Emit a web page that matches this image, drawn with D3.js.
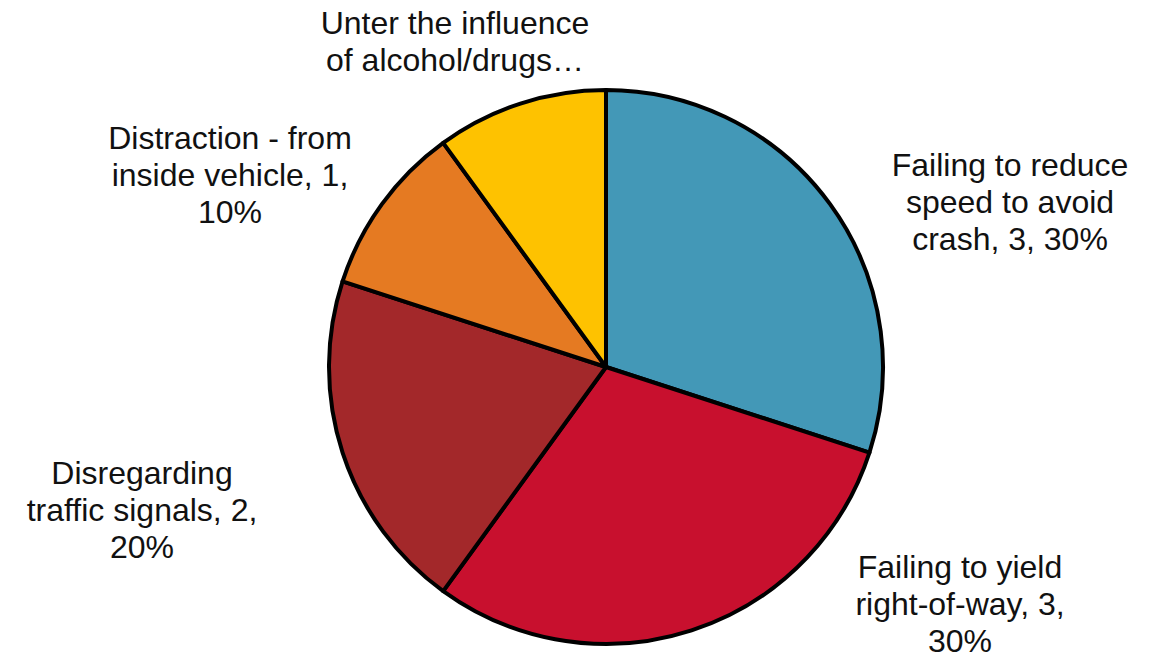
<!DOCTYPE html>
<html><head><meta charset="utf-8">
<script src="https://cdn.jsdelivr.net/npm/d3@7"></script>
<style>html,body{margin:0;padding:0;background:#fff;}svg{display:block;}</style>
</head><body>
<svg id="chart" width="1155" height="652"></svg>
<script>
const categories = ["Failing to reduce speed to avoid crash","Failing to yield right-of-way","Disregarding traffic signals","Distraction - from inside vehicle","Unter the influence of alcohol/drugs"];
const values = [3, 3, 2, 1, 1];
const percents = ["30%","30%","20%","10%","10%"];
const colors = ["#4398B7","#C8102E","#A3282A","#E57A22","#FEC200"];
const labelLines = [
  ["Failing to reduce","speed to avoid","crash, 3, 30%"],
  ["Failing to yield","right-of-way, 3,","30%"],
  ["Disregarding","traffic signals, 2,","20%"],
  ["Distraction - from","inside vehicle, 1,","10%"],
  ["Unter the influence","of alcohol/drugs…"]
];
const labelAnchors = [[1010,176],[960,578],[142,484],[230,149],[455,34]];

const svg = d3.select("#chart");
const cx = 606, cy = 367, r = 277;
const pie = d3.pie().sort(null).value(d => d)(values);
const arc = d3.arc().innerRadius(0).outerRadius(r);
const g = svg.append("g").attr("transform", `translate(${cx},${cy})`);
g.selectAll("path").data(pie).enter().append("path")
  .attr("d", arc)
  .attr("fill", (d,i) => colors[i])
  .attr("stroke", "#000")
  .attr("stroke-width", 4)
  .attr("stroke-linejoin", "round");

const lh = 37;
labelLines.forEach((lines, i) => {
  const t = svg.append("text")
    .attr("x", labelAnchors[i][0]).attr("y", labelAnchors[i][1])
    .attr("text-anchor", "middle")
    .attr("font-family", "Liberation Sans, Arial, sans-serif")
    .attr("font-size", 32)
    .attr("fill", "#111");
  lines.forEach((ln, j) => {
    t.append("tspan").attr("x", labelAnchors[i][0]).attr("y", labelAnchors[i][1] + j*lh).text(ln);
  });
});
</script>
</body></html>
